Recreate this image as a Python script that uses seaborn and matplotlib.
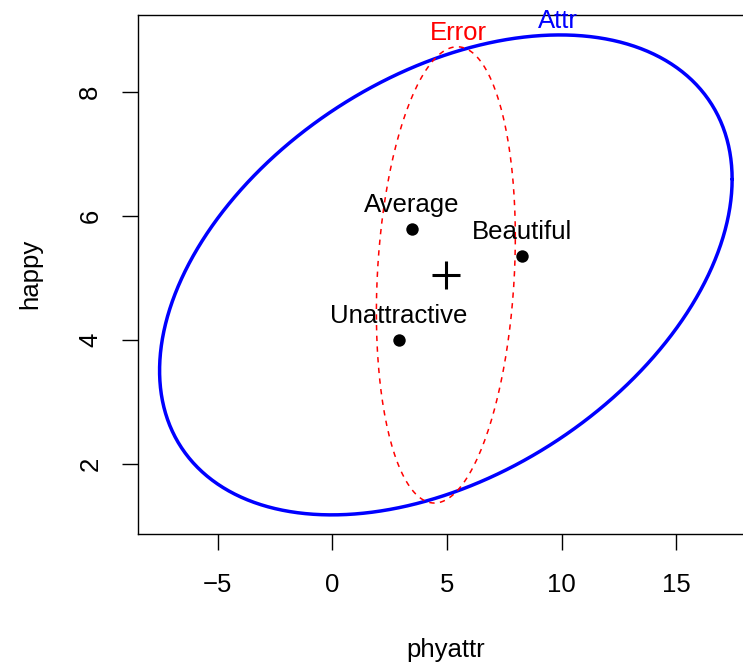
import numpy as np
import pandas as pd
import matplotlib
matplotlib.use("Agg")
import matplotlib.pyplot as plt
import seaborn as sns

# group means (phyattr, happy)
groups = ["Average", "Beautiful", "Unattractive"]
mean_phyattr = [3.47, 8.28, 2.89]
mean_happy = [5.79, 5.355, 4.00]

# grand mean
grand_mean = [4.95, 5.05]

# HE plot shape matrices (already scaled): hypothesis and error
H_attr = [[155.9, 19.27], [19.27, 14.98]]
E_error = [[9.18, 1.84], [1.84, 13.54]]
ellipse_names = ["Attr", "Error"]
ellipse_colors = ["blue", "red"]


def ellipse_df(center, S, n=200):
    t = np.linspace(0, 2 * np.pi, n)
    L = np.linalg.cholesky(np.array(S))
    pts = L @ np.vstack([np.cos(t), np.sin(t)])
    return pd.DataFrame({"x": pts[0] + center[0], "y": pts[1] + center[1]})


sns.set_style("white")
plt.rcParams["font.family"] = ["Liberation Sans", "DejaVu Sans"]
plt.rcParams["font.size"] = 18.5
for k in ["text.color", "axes.labelcolor", "xtick.color", "ytick.color", "axes.edgecolor"]:
    plt.rcParams[k] = "black"

fig = plt.figure(figsize=(7.43, 6.67), dpi=100)
W, Hh = 743, 667
ax = fig.add_axes([137.7 / W, (Hh - 533.7) / Hh, (754 - 137.7) / W, (533.7 - 15) / Hh])

# ellipses
ells = [ellipse_df(grand_mean, H_attr), ellipse_df(grand_mean, E_error)]
sns.lineplot(data=ells[0], x="x", y="y", sort=False, estimator=None,
             color="blue", linewidth=2.5, ax=ax)
sns.lineplot(data=ells[1], x="x", y="y", sort=False, estimator=None,
             color="red", linewidth=1.1, linestyle=(0, (3.5, 3.5)), ax=ax)

# ellipse labels at the top point of each
for df, name, col in zip(ells, ellipse_names, ellipse_colors):
    top = df.loc[df["y"].idxmax()]
    ax.annotate(name, (top["x"], top["y"]), xytext=(0, 5), textcoords="offset points",
                ha="center", va="baseline", color=col, fontsize=18.5)

# group means
sns.scatterplot(x=mean_phyattr, y=mean_happy, color="black", s=80,
                edgecolor="black", linewidth=0, ax=ax, zorder=5)
for g, xv, yv in zip(groups, mean_phyattr, mean_happy):
    ax.annotate(g, (xv, yv), xytext=(0, 12), textcoords="offset points",
                ha="center", va="baseline", fontsize=18.5, color="black")

# grand mean
sns.scatterplot(x=[grand_mean[0]], y=[grand_mean[1]], marker="+", s=380,
                color="black", linewidth=2.2, ax=ax, zorder=5)

ax.set_xlim(-8.49, 18.39)
ax.set_ylim(0.876, 9.242)
ax.set_xticks([-5, 0, 5, 10, 15])
ax.set_yticks([2, 4, 6, 8])
ax.set_xticklabels(["\u22125", "0", "5", "10", "15"])
for lab in ax.get_yticklabels():
    lab.set_rotation(90)
    lab.set_va("center")
ax.tick_params(axis="both", direction="out", length=11.5, width=1, color="black",
               labelcolor="black", labelsize=18.5, left=True, bottom=True)
ax.tick_params(axis="x", pad=17)
ax.tick_params(axis="y", pad=14)
for s in ax.spines.values():
    s.set_color("black")
    s.set_linewidth(1)
ax.set_xlabel("phyattr", fontsize=18.5, labelpad=29, color="black")
ax.set_ylabel("happy", fontsize=18.5, labelpad=26, color="black")

fig.savefig("out.png", dpi=100)
